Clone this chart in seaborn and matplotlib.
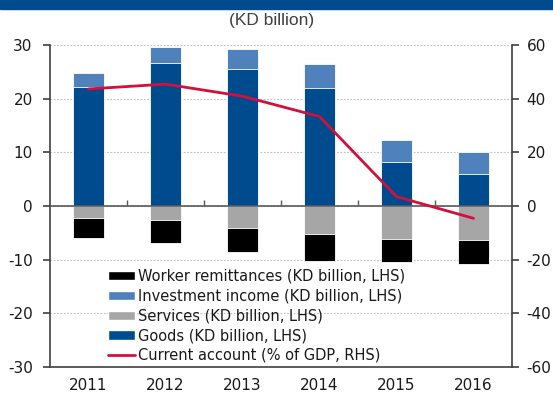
import matplotlib
matplotlib.use("Agg")
import matplotlib.pyplot as plt
import seaborn as sns
import pandas as pd
import numpy as np
from matplotlib.patches import Patch
from matplotlib.lines import Line2D

years = ["2011", "2012", "2013", "2014", "2015", "2016"]
goods = [22.3, 26.7, 25.6, 22.0, 8.3, 6.0]
investment_income = [2.6, 2.9, 3.8, 4.6, 4.0, 4.1]
services = [-2.3, -2.7, -4.2, -5.2, -6.1, -6.3]
worker_remittances = [-3.6, -4.3, -4.4, -5.0, -4.4, -4.6]
current_account = [43.7, 45.5, 41.0, 33.4, 3.5, -4.6]

C_GOODS = "#004B8D"
C_INV = "#4F81BD"
C_SERV = "#A6A6A6"
C_REM = "#000000"
C_LINE = "#D2103C"
C_AX = "#404040"

sns.set_style("white")
plt.rcParams["font.family"] = ["DejaVu Sans"]
plt.rcParams["axes.unicode_minus"] = False

df = pd.DataFrame({
    "year": years,
    "goods": goods,
    "inv": investment_income,
    "serv": services,
    "rem": worker_remittances,
    "ca": current_account,
})
df["pos_total"] = df["goods"] + df["inv"]
df["neg_total"] = df["serv"] + df["rem"]

fig = plt.figure(figsize=(5.53, 3.96), dpi=100)
ax = fig.add_axes([50/553, 1 - 366.7/396, 462/553, 321.4/396])

bar_kw = dict(width=0.40, edgecolor="white", linewidth=0.6, ax=ax, order=years)
sns.barplot(data=df, x="year", y="pos_total", color=C_INV, saturation=1, **bar_kw)
sns.barplot(data=df, x="year", y="goods", color=C_GOODS, saturation=1, **bar_kw)
sns.barplot(data=df, x="year", y="neg_total", color=C_REM, saturation=1, **bar_kw)
sns.barplot(data=df, x="year", y="serv", color=C_SERV, saturation=1, **bar_kw)

ax.set_xlim(-0.5, 5.5)
ax.set_ylim(-30, 30)
ax.set_yticks([-30, -20, -10, 0, 10, 20, 30])
ax.set_xlabel("")
ax.set_ylabel("")
ax.yaxis.grid(True, linestyle=(0, (1.5, 1.5)), color="#BFBFBF", linewidth=0.8)
ax.set_axisbelow(True)
ax.axhline(0, color="#5A5A5A", linewidth=1.2, zorder=3)

for s in ["top", "right"]:
    ax.spines[s].set_visible(False)
for s in ["left", "bottom"]:
    ax.spines[s].set_color(C_AX)
    ax.spines[s].set_linewidth(1.2)
ax.tick_params(axis="y", direction="out", length=5, width=1.2, color=C_AX,
               pad=7.5, labelsize=11, labelcolor="#1a1a1a", left=True)
ax.tick_params(axis="x", length=0, pad=8, labelsize=11, labelcolor="#1a1a1a")

# small category separators on the zero line
sec = ax.secondary_xaxis(0.5)
sec.set_xticks([0.5, 1.5, 2.5, 3.5, 4.5])
sec.set_xticklabels([])
sec.tick_params(direction="out", length=4, width=1.0, color="#5A5A5A")
sec.spines["bottom"].set_visible(False)
sec.spines["top"].set_visible(False)

ax2 = ax.twinx()
sns.lineplot(x=np.arange(len(years)), y=current_account, color=C_LINE,
             linewidth=2.0, ax=ax2)
ax2.set_ylim(-60, 60)
ax2.set_yticks([-60, -40, -20, 0, 20, 40, 60])
ax2.set_xlim(-0.5, 5.5)
for s in ["top", "left", "bottom"]:
    ax2.spines[s].set_visible(False)
ax2.spines["right"].set_color(C_AX)
ax2.spines["right"].set_linewidth(1.2)
ax2.tick_params(axis="y", direction="out", length=5, width=1.2, color=C_AX,
                pad=5.5, labelsize=11, labelcolor="#1a1a1a", right=True)

handles = [
    Patch(facecolor=C_REM, label="Worker remittances (KD billion, LHS)"),
    Patch(facecolor=C_INV, label="Investment income (KD billion, LHS)"),
    Patch(facecolor=C_SERV, label="Services (KD billion, LHS)"),
    Patch(facecolor=C_GOODS, label="Goods (KD billion, LHS)"),
    Line2D([0], [0], color=C_LINE, linewidth=2.0, label="Current account (% of GDP, RHS)"),
]
ax2.legend(handles=handles, loc="upper left", bbox_to_anchor=(0.125, 0.305),
           frameon=False, fontsize=10.5, handlelength=1.9, handleheight=0.6,
           handletextpad=0.2, labelspacing=0.33, borderpad=0, borderaxespad=0,
           labelcolor="#1a1a1a")

# top band and title
fig.patches.append(plt.Rectangle((0, 1 - 8.5/396), 1, 8.5/396, transform=fig.transFigure,
                                 color="#004B8D", zorder=0))
fig.text(272/553, 1 - 20/396, "(KD billion)", ha="center", va="center",
         fontsize=12.5, color="#404040",
         family=["Liberation Sans Narrow", "Liberation Sans", "DejaVu Sans"])

fig.savefig("out.png", dpi=100)
